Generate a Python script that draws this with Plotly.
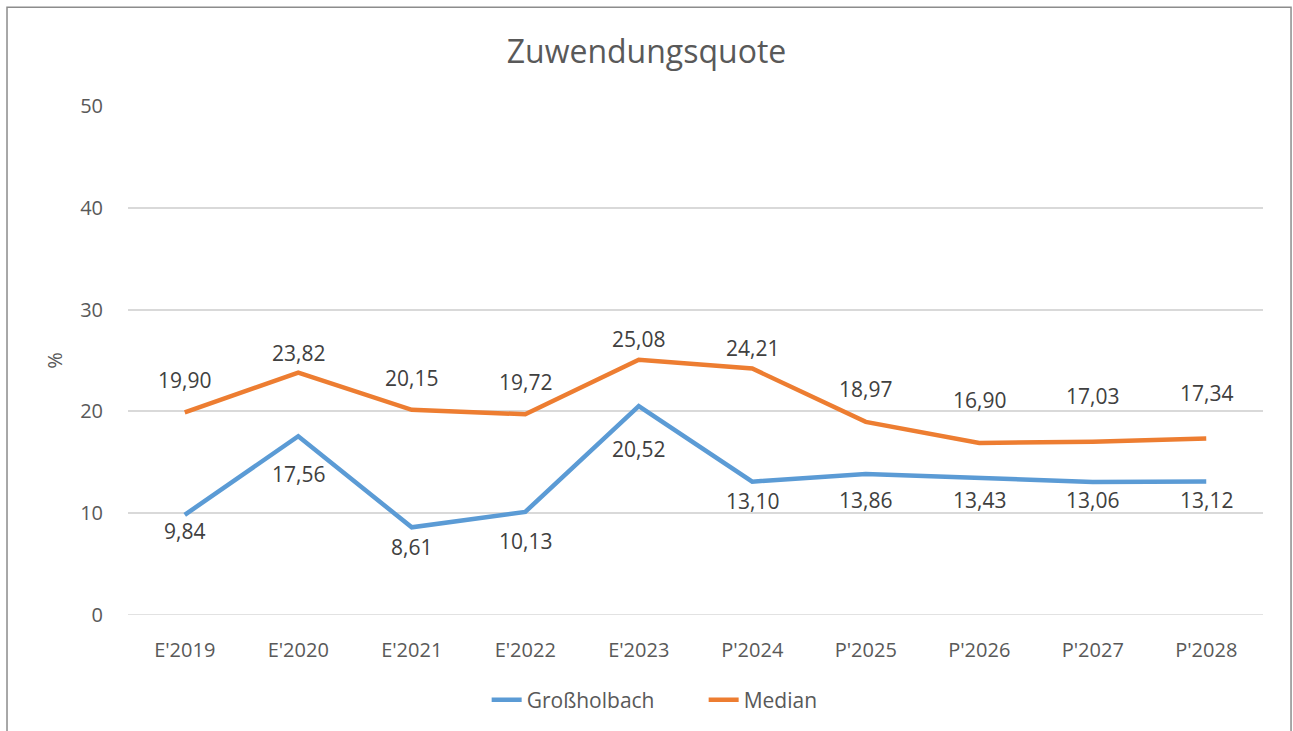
import plotly.graph_objects as go

categories = ["E'2019", "E'2020", "E'2021", "E'2022", "E'2023", "P'2024", "P'2025", "P'2026", "P'2027", "P'2028"]
grossholbach = [9.84, 17.56, 8.61, 10.13, 20.52, 13.10, 13.86, 13.43, 13.06, 13.12]
median = [19.90, 23.82, 20.15, 19.72, 25.08, 24.21, 18.97, 16.90, 17.03, 17.34]

# label offsets (pixels, style only)
gh_label_shift = [-16, -38, -20, -29, -43, -19, -26, -22, -18, -19]
md_label_shift = [32, 20, 32, 32, 21, 21, 33, 43, 46, 45]

def fmt(v):
    return f"{v:.2f}".replace(".", ",")

font_family = "Open Sans, Liberation Sans, sans-serif"
text_color = "#595959"
label_color = "#404040"

fig = go.Figure()
fig.add_trace(go.Scatter(
    x=categories, y=grossholbach, name="Großholbach", mode="lines",
    line=dict(color="#5B9BD5", width=4.5),
))
fig.add_trace(go.Scatter(
    x=categories, y=median, name="Median", mode="lines",
    line=dict(color="#ED7D31", width=4.5),
))

for cat, v, s in zip(categories, grossholbach, gh_label_shift):
    fig.add_annotation(x=cat, y=v, text=fmt(v), showarrow=False, yshift=s,
                       yanchor="middle", font=dict(size=21, color=label_color, family=font_family))
for cat, v, s in zip(categories, median, md_label_shift):
    fig.add_annotation(x=cat, y=v, text=fmt(v), showarrow=False, yshift=s,
                       yanchor="middle", font=dict(size=21, color=label_color, family=font_family))

fig.update_layout(
    width=1293, height=731,
    margin=dict(l=128, r=30, t=106, b=115),
    paper_bgcolor="white", plot_bgcolor="white",
    font=dict(family=font_family, color=text_color, size=20),
    title=dict(text="Zuwendungsquote", x=0.5, xanchor="center", y=1 - 52 / 731, yanchor="middle",
               font=dict(size=32, color=text_color, family=font_family)),
    xaxis=dict(type="category", range=[-0.5, 9.5], showgrid=False, showline=False,
               ticks="outside", ticklen=17, tickcolor="rgba(0,0,0,0)",
               tickfont=dict(size=20, color=text_color)),
    yaxis=dict(range=[0, 50], dtick=10, showgrid=True, gridcolor="#D9D9D9", gridwidth=1.5,
               zeroline=False, showline=False, ticks="outside", ticklen=20, tickcolor="rgba(0,0,0,0)",
               tickfont=dict(size=20, color=text_color),
               title=dict(text="%", font=dict(size=20, color=text_color), standoff=12)),
    legend=dict(orientation="h", x=0.316, xanchor="left", y=-0.165, yanchor="middle",
                entrywidth=172, entrywidthmode="pixels",
                font=dict(size=21, color=text_color, family=font_family)),
    showlegend=True,
)
fig.add_shape(type="line", xref="x domain", yref="y", x0=0, x1=1, y0=0, y1=0,
              line=dict(color="#D9D9D9", width=1.5), layer="below")
fig.add_shape(type="rect", xref="paper", yref="paper",
              x0=-0.1066, x1=1.0247, y0=-0.3, y1=1.194,
              line=dict(color="#8C8C8C", width=1.5), fillcolor="rgba(0,0,0,0)")

fig.write_html("out.html", config={"displayModeBar": False},
               post_script="document.body.style.margin='0';document.body.style.overflow='hidden';")
